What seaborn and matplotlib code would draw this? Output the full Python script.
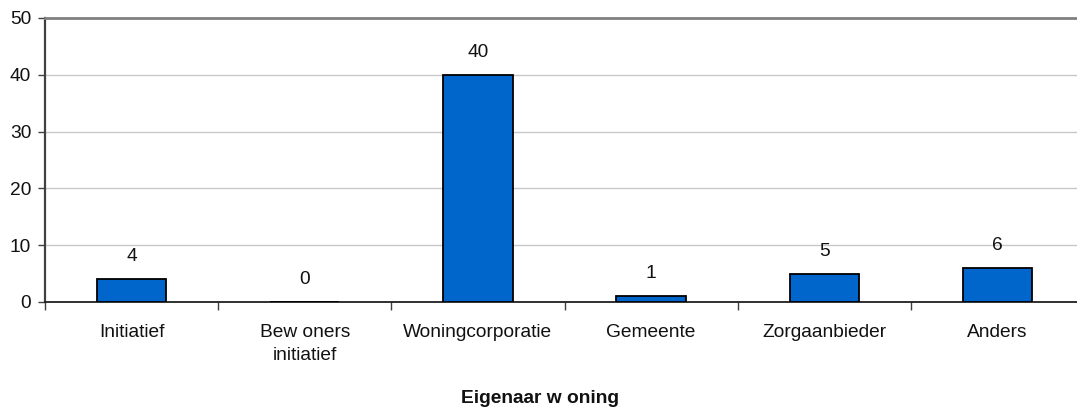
import matplotlib
matplotlib.use("Agg")
import matplotlib.pyplot as plt
import seaborn as sns
import pandas as pd
import numpy as np
from matplotlib.ticker import FixedLocator

# Eigenaar van de woning: aantallen per categorie
categories = ["Initiatief", "Bew oners\ninitiatief", "Woningcorporatie",
              "Gemeente", "Zorgaanbieder", "Anders"]
counts = [4, 0, 40, 1, 5, 6]
y_ticks = [0, 10, 20, 30, 40, 50]

sns.set_theme(style="white")
plt.rcParams["font.family"] = ["Liberation Sans", "DejaVu Sans"]

df = pd.DataFrame({"categorie": categories, "aantal": counts})

fig = plt.figure(figsize=(10.77, 4.12), dpi=100)
ax = fig.add_axes([45 / 1077, (412 - 302) / 412, (1084 - 45) / 1077, (302 - 18) / 412])

sns.barplot(data=df, x="categorie", y="aantal", color="#0066CC",
            saturation=1, width=0.4, edgecolor="black", linewidth=1.3, ax=ax,
            zorder=3)

ax.set_ylim(0, 50)
ax.set_xlim(-0.5, 5.5)
ax.set_yticks(y_ticks)
ax.yaxis.grid(True, color="#C8C8C8", linewidth=1, zorder=0)
ax.set_axisbelow(True)

ax.spines["right"].set_visible(False)
ax.spines["top"].set_color("#808080")
ax.spines["top"].set_linewidth(2)
ax.spines["left"].set_color("#404040")
ax.spines["left"].set_linewidth(1.6)
ax.spines["bottom"].set_color("#202020")
ax.spines["bottom"].set_linewidth(1.3)

fs = 13.8
ax.tick_params(axis="y", which="major", length=5, width=1, color="#404040",
               direction="out", left=True, labelsize=fs, labelcolor="#111111", pad=5)
ax.tick_params(axis="x", which="major", length=0, labelsize=fs,
               labelcolor="#111111", pad=16)
ax.xaxis.set_minor_locator(FixedLocator(np.arange(-0.5, 6.0, 1.0)))
ax.tick_params(axis="x", which="minor", length=6, width=1, color="#404040",
               direction="out", bottom=True)
for lbl in ax.get_xticklabels():
    lbl.set_linespacing(1.45)
    lbl.set_verticalalignment("top")

for container in ax.containers:
    ax.bar_label(container, fmt="%d", padding=10, fontsize=fs, color="#111111")

ax.set_xlabel("Eigenaar w oning", fontsize=fs, fontweight="bold",
              color="#111111")
ax.xaxis.set_label_coords((540 - 45) / (1084 - 45), -88 / 284)
ax.set_ylabel("")

fig.savefig("out.png", dpi=100)
